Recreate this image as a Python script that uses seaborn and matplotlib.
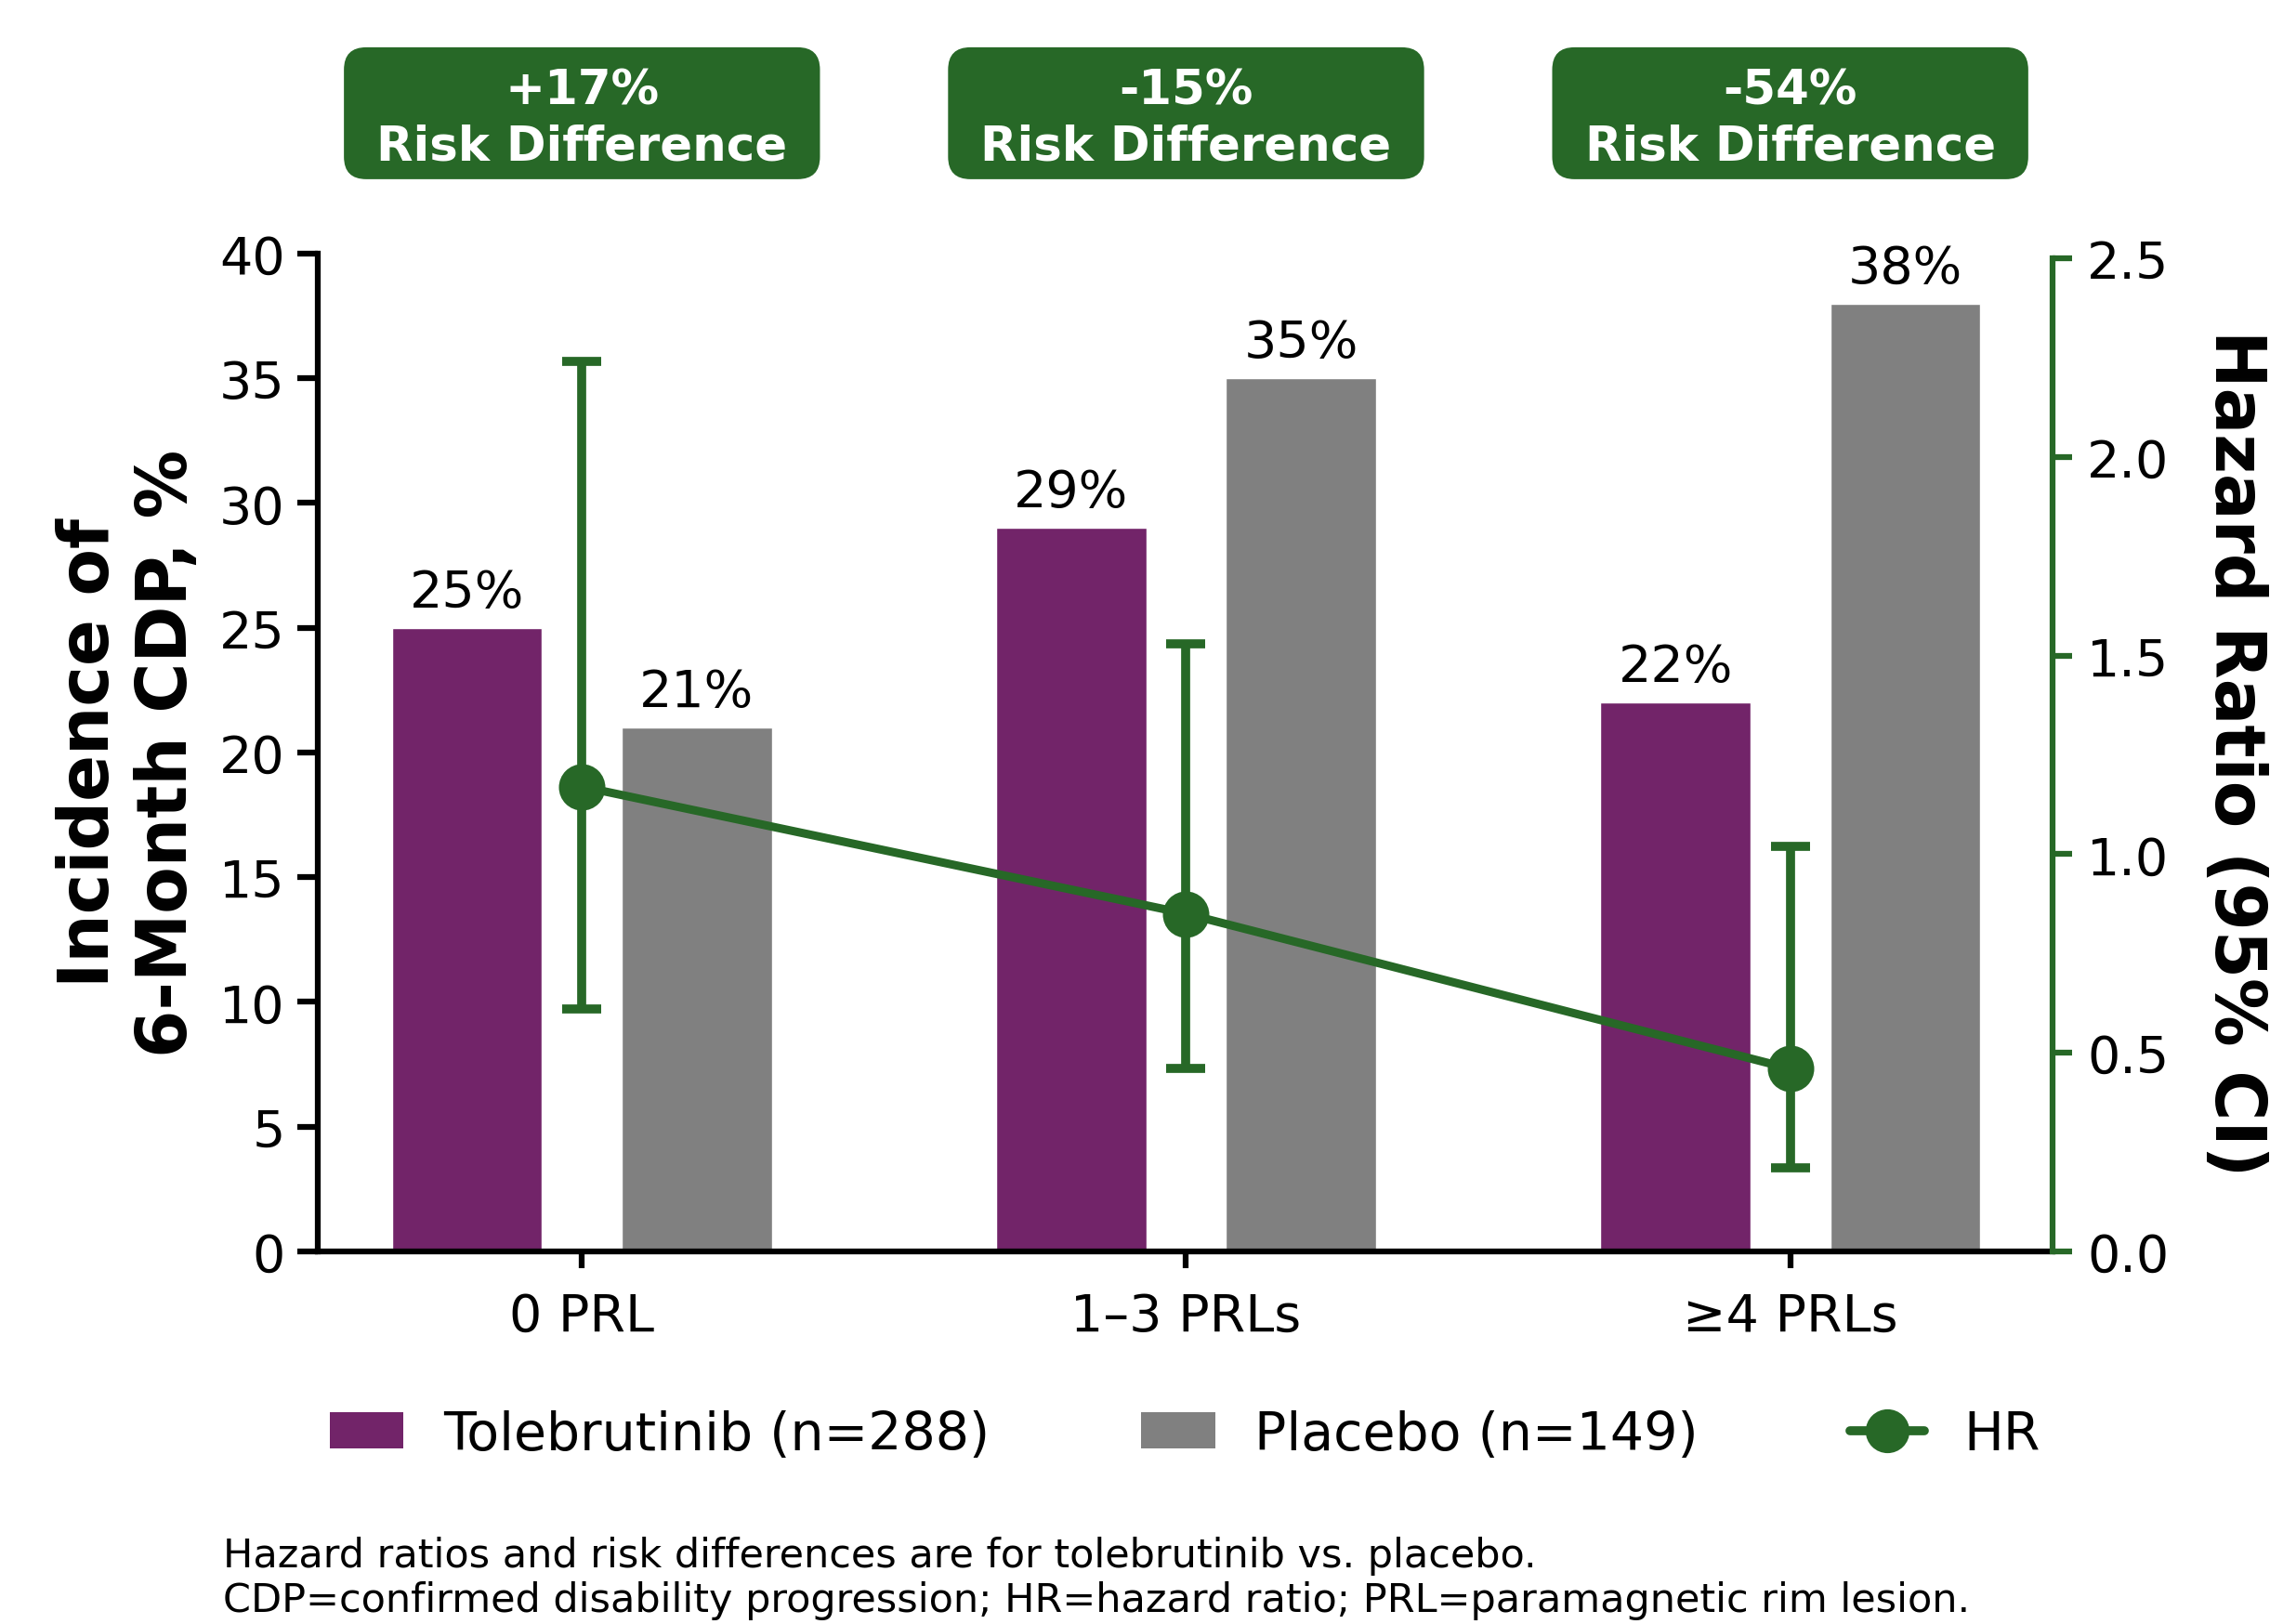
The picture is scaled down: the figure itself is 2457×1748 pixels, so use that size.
import matplotlib
matplotlib.use("Agg")
import matplotlib.pyplot as plt
from matplotlib.lines import Line2D
from matplotlib.patches import FancyBboxPatch
import seaborn as sns
import pandas as pd
import numpy as np

# --- data ---
groups = ["0 PRL", "1–3 PRLs", "≥4 PRLs"]
treatments = ["Tolebrutinib (n=288)", "Placebo (n=149)"]
tolebrutinib_pct = [25, 29, 22]
placebo_pct = [21, 35, 38]
hr = [1.17, 0.85, 0.46]
hr_low = [0.61, 0.46, 0.21]
hr_high = [2.24, 1.53, 1.02]
risk_diff = ["+17%", "-15%", "-54%"]

PURPLE = "#722469"
GRAY = "#808080"
GREEN = "#276827"

df = pd.DataFrame({
    "group": groups * 2,
    "treatment": [treatments[0]] * 3 + [treatments[1]] * 3,
    "pct": tolebrutinib_pct + placebo_pct,
})

sns.set_style("ticks")
plt.rcParams["font.family"] = ["DejaVu Sans"]
plt.rcParams.update({
    "text.color": "black", "axes.labelcolor": "black", "axes.edgecolor": "black",
    "xtick.color": "black", "ytick.color": "black",
})

fig = plt.figure(figsize=(24.57, 17.49), dpi=100)
ax = fig.add_axes([0.139, 0.2293, 0.760, 0.6141])

sns.barplot(data=df, x="group", y="pct", hue="treatment", order=groups,
            hue_order=treatments, palette={treatments[0]: PURPLE, treatments[1]: GRAY},
            width=0.76, gap=0.347, saturation=1, errorbar=None, ax=ax)
ax.get_legend().remove()

for cont in ax.containers:
    ax.bar_label(cont, fmt="%g%%", padding=8, fontsize=40)

ax.set_xlim(-0.438, 2.434)
ax.set_ylim(0, 40)
ax.set_yticks(np.arange(0, 41, 5))
ax.set_xlabel("")
ax.set_ylabel("Incidence of\n6-Month CDP, %", fontsize=53, fontweight="bold",
              multialignment="center")
ax.yaxis.set_label_coords(-0.0665, 0.5)
for s in ["top", "right"]:
    ax.spines[s].set_visible(False)
for s in ["left", "bottom"]:
    ax.spines[s].set_linewidth(4.5)
ax.tick_params(axis="y", labelsize=40, length=16, width=4.5, pad=9)
ax.tick_params(axis="x", labelsize=40, length=13, width=4.5, pad=18)

# hazard ratio on the right axis
ax2 = ax.twinx()
x_pos = np.arange(len(groups))
yerr = [np.array(hr) - np.array(hr_low), np.array(hr_high) - np.array(hr)]
ax2.errorbar(x_pos, hr, yerr=yerr, fmt="none", ecolor=GREEN, elinewidth=7,
             capsize=15, capthick=7, zorder=3)
sns.lineplot(x=x_pos, y=hr, color=GREEN, linewidth=6.5, marker="o",
             markersize=36, markeredgewidth=0, ax=ax2, zorder=4)
ax2.set_ylim(0, 2.512)
ax2.set_yticks([0, 0.5, 1.0, 1.5, 2.0, 2.5])
ax2.set_yticklabels(["0.0", "0.5", "1.0", "1.5", "2.0", "2.5"])
for s in ["top", "left", "bottom"]:
    ax2.spines[s].set_visible(False)
ax2.spines["right"].set_color(GREEN)
ax2.spines["right"].set_linewidth(4.5)
ax2.spines["right"].set_bounds(0, 2.5)
ax2.tick_params(axis="y", labelsize=40, length=15, width=4.5, pad=12,
                color=GREEN, labelcolor="black")
ax2.set_ylabel("Hazard Ratio (95% CI)", fontsize=53, fontweight="bold",
               rotation=270, va="center")
ax2.yaxis.set_label_coords(1.105, 0.5)

# risk difference boxes (x in data units, y in axes units)
trans = ax.get_xaxis_transform()
box_w, box_y0, box_y1 = 0.788, 1.0745, 1.2067
for i, txt in enumerate(risk_diff):
    box = FancyBboxPatch((i - box_w / 2, box_y0), box_w, box_y1 - box_y0,
                         boxstyle="round,pad=0,rounding_size=0.037",
                         mutation_aspect=0.605, transform=trans,
                         facecolor=GREEN, edgecolor="none", clip_on=False)
    ax.add_patch(box)
    ax.text(i, (box_y0 + box_y1) / 2 - 0.005, f"{txt}\nRisk Difference", transform=trans,
            ha="center", va="center", fontsize=37, fontweight="bold", color="white",
            linespacing=1.25)

# legend
handles = [
    plt.Rectangle((0, 0), 1, 1, facecolor=PURPLE, edgecolor="none"),
    plt.Rectangle((0, 0), 1, 1, facecolor=GRAY, edgecolor="none"),
    Line2D([0], [0], color=GREEN, lw=7, marker="o", markersize=34, markeredgewidth=0),
]
fig.legend(handles, treatments + ["HR"], loc="center", bbox_to_anchor=(0.519, 0.1165),
           ncol=3, frameon=False, fontsize=41, handlelength=1.4, handleheight=0.68,
           handletextpad=0.75, columnspacing=2.86)

fig.text(0.0977, 0.0286, "Hazard ratios and risk differences are for tolebrutinib vs. placebo.\n"
         "CDP=confirmed disability progression; HR=hazard ratio; PRL=paramagnetic rim lesion.",
         ha="left", va="center", fontsize=31, linespacing=1.2)

fig.savefig("out.png", dpi=100)
